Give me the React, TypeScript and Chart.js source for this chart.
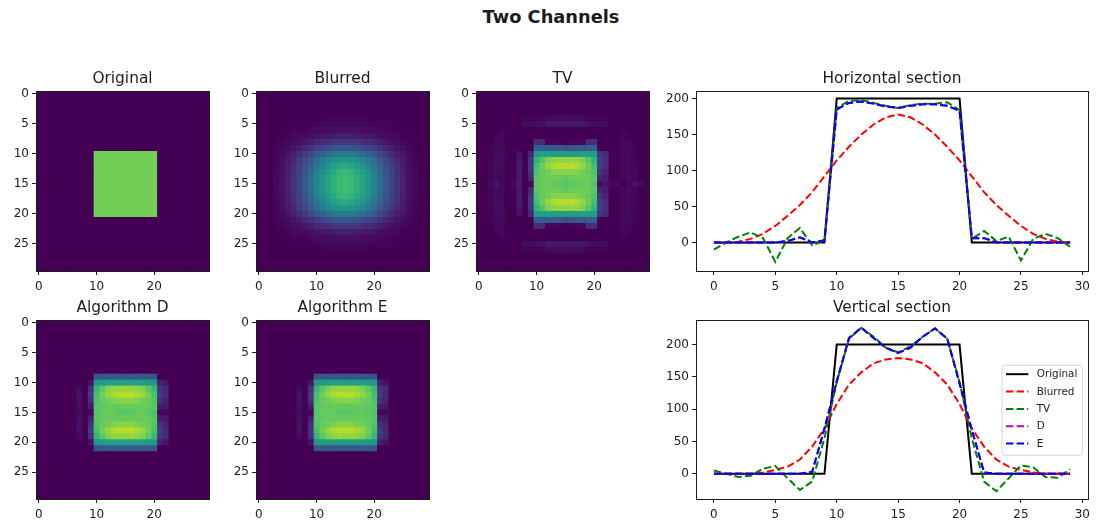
import React, { useEffect, useRef } from "react";
import { Chart, registerables } from "chart.js";

Chart.register(...registerables);

const SUPTITLE = "Two Channels";
const XS = [0,1,2,3,4,5,6,7,8,9,10,11,12,13,14,15,16,17,18,19,20,21,22,23,24,25,26,27,28,29];
const IMG_X_TICKS = [0,10,20];
const IMG_Y_TICKS = [0,5,10,15,20,25];
const SEC_X_TICKS = [0,5,10,15,20,25,30];
const SEC_Y_TICKS = [0,50,100,150,200];

// Section curves
const H_ORIGINAL = [0,0,0,0,0,0,0,0,0,0,200,200,200,200,200,200,200,200,200,200,200,0,0,0,0,0,0,0,0,0];
const H_BLURRED = [0,0,1,5,12,23,37,52,70,92,114,133,150,164,174,178,174,164,150,133,114,92,70,52,37,23,12,5,1,0];
const H_TV = [-10,0,8,14,6,-27,6,20,-4,3,187,197,198,194,190,187,191,193,193,195,184,5,16,2,8,-25,5,12,6,-6];
const H_D = [0,0,0,0,0,0,2,7,0,3,185,194,196,193,189,187,190,192,192,190,183,6,6,0,0,0,0,0,0,0];
const H_E = [0,0,0,0,0,0,2,7,0,3,185,194,196,193,189,187,190,192,192,190,183,6,6,0,0,0,0,0,0,0];
const V_ORIGINAL = [0,0,0,0,0,0,0,0,0,0,200,200,200,200,200,200,200,200,200,200,200,0,0,0,0,0,0,0,0,0];
const V_BLURRED = [0,0,0,0,2,6,11,22,42,70,108,138,157,171,177,179,177,171,157,138,108,70,42,22,11,6,2,0,0,0];
const V_TV = [5,0,-5,-3,8,12,-7,-25,-12,55,142,209,226,212,195,188,197,212,225,209,142,55,-12,-27,-7,13,10,-5,-6,7];
const V_D = [0,0,0,0,0,0,0,0,3,70,143,210,226,210,195,187,195,212,225,209,140,68,2,0,0,0,0,0,0,0];
const V_E = [0,0,0,0,0,0,0,0,3,70,143,210,226,210,195,187,195,212,225,209,140,68,2,0,0,0,0,0,0,0];
const LEGEND_LABELS = ["Original","Blurred","TV","D","E"];

// Image rows
const Z = [0,0,0,0,0,0,0,0,0,0,0,0,0,0,0,0,0,0,0,0,0,0,0,0,0,0,0,0,0,0];
const O1 = [0,0,0,0,0,0,0,0,0,0,200,200,200,200,200,200,200,200,200,200,200,0,0,0,0,0,0,0,0,0];
const IMG_ORIGINAL = [Z,Z,Z,Z,Z,Z,Z,Z,Z,Z,O1,O1,O1,O1,O1,O1,O1,O1,O1,O1,O1,Z,Z,Z,Z,Z,Z,Z,Z,Z];

const B4 = [0,0,0,0,0,0,0,0,1,1,1,1,2,2,2,2,2,2,2,1,1,1,1,0,0,0,0,0,0,0];
const B5 = [0,0,0,0,0,1,1,2,2,3,4,5,5,6,6,6,6,6,5,5,4,3,2,2,1,1,0,0,0,0];
const B6 = [0,0,0,0,1,1,2,3,4,6,7,8,9,10,11,11,11,10,9,8,7,6,4,3,2,1,1,0,0,0];
const B7 = [0,0,0,1,1,3,5,6,9,11,14,16,18,20,21,22,21,20,18,16,14,11,9,6,5,3,1,1,0,0];
const B8 = [0,0,0,1,3,5,9,12,16,22,27,31,35,39,41,42,41,39,35,31,27,22,16,12,9,5,3,1,0,0];
const B9 = [0,0,0,2,5,9,14,20,27,36,45,52,59,64,68,70,68,64,59,52,45,36,27,20,14,9,5,2,0,0];
const B10 = [0,0,1,3,7,14,22,31,42,55,69,80,90,99,105,107,105,99,90,80,69,55,42,31,22,14,7,3,1,0];
const B11 = [0,0,1,4,9,18,29,40,54,71,88,103,116,126,134,137,134,126,116,103,88,71,54,40,29,18,9,4,1,0];
const B12 = [0,0,1,4,11,20,32,46,61,81,100,117,132,144,153,156,153,144,132,117,100,81,61,46,32,20,11,4,1,0];
const B13 = [0,0,1,5,11,22,35,50,67,88,109,127,143,157,166,170,166,157,143,127,109,88,67,50,35,22,11,5,1,0];
const B14 = [0,0,1,5,12,23,37,51,69,91,113,132,148,162,172,176,172,162,148,132,113,91,69,51,37,23,12,5,1,0];
const B15 = [0,0,1,5,12,23,37,52,70,92,114,133,150,164,174,178,174,164,150,133,114,92,70,52,37,23,12,5,1,0];
const IMG_BLURRED = [Z,Z,Z,Z,B4,B5,B6,B7,B8,B9,B10,B11,B12,B13,B14,B15,B14,B13,B12,B11,B10,B9,B8,B7,B6,B5,B4,Z,Z,Z];

const T4 = [0,0,0,0,0,0,0,0,3,3,3,3,7,7,8,8,8,7,7,3,3,3,3,0,0,0,0,0,0,0];
const T5 = [0,0,0,0,0,0,0,0,8,9,9,10,15,16,16,16,16,16,15,10,9,9,8,0,0,0,0,0,0,0];
const T6 = [0,0,0,0,3,0,0,0,0,0,0,0,0,0,0,0,0,0,0,0,0,0,0,0,0,3,0,0,0,0];
const T7 = [0,0,0,3,5,0,0,0,0,0,0,0,0,0,0,0,0,0,0,0,0,0,0,0,0,5,3,0,0,0];
const T8 = [0,0,0,5,6,0,0,0,0,0,35,30,4,4,4,-12,4,4,4,30,35,0,0,0,0,6,5,0,0,0];
const T9 = [0,0,2,6,6,0,0,0,0,0,78,75,72,72,70,60,70,72,72,75,78,0,0,0,0,6,6,2,0,0];
const T10 = [0,0,3,7,6,0,0,12,0,28,138,142,143,142,142,142,142,142,143,142,138,38,30,0,0,6,7,3,0,0];
const T11 = [0,0,4,8,6,0,0,16,0,38,165,185,205,212,214,214,214,212,205,185,165,46,32,0,0,6,8,4,0,0];
const T12 = [0,0,4,8,5,0,0,18,0,40,178,198,212,222,226,226,226,222,212,198,178,45,30,0,0,5,8,4,0,0];
const T13 = [0,0,4,8,5,0,0,18,0,35,182,193,200,205,208,208,208,205,200,193,182,38,24,0,0,5,8,4,0,0];
const T14 = [0,0,4,8,5,0,0,16,0,25,188,196,198,198,197,193,197,198,198,196,188,24,20,0,0,5,8,4,0,0];
const T15 = [-10,0,8,14,6,-27,6,20,-4,3,187,197,198,194,190,187,191,193,193,195,184,5,16,2,8,-25,5,12,6,-6];
const IMG_TV = [Z,Z,Z,Z,T4,T5,T6,T7,T8,T9,T10,T11,T12,T13,T14,T15,T14,T13,T12,T11,T10,T9,T8,T7,T6,T5,T4,Z,Z,Z];

const D9 = [0,0,0,0,0,0,0,0,0,0,68,70,72,72,70,70,70,72,72,70,68,0,0,0,0,0,0,0,0,0];
const D10 = [0,0,0,0,0,0,0,0,0,15,135,140,143,143,143,143,143,143,143,140,135,22,15,0,0,0,0,0,0,0];
const D11 = [0,0,0,0,0,0,0,8,0,35,170,190,205,212,214,214,214,212,205,190,170,40,28,0,0,0,0,0,0,0];
const D12 = [0,0,0,0,0,0,0,12,0,42,180,200,215,222,226,226,226,222,215,200,180,46,30,0,0,0,0,0,0,0];
const D13 = [0,0,0,0,0,0,0,12,0,35,185,195,200,205,210,210,210,205,200,195,185,35,25,0,0,0,0,0,0,0];
const D14 = [0,0,0,0,0,0,0,10,0,20,188,192,195,195,195,195,195,195,195,192,188,20,18,0,0,0,0,0,0,0];
const D15 = [0,0,0,0,0,0,2,7,0,3,185,194,196,193,189,187,190,192,192,190,183,6,6,0,0,0,0,0,0,0];
const IMG_D = [Z,Z,Z,Z,Z,Z,Z,Z,Z,D9,D10,D11,D12,D13,D14,D15,D14,D13,D12,D11,D10,D9,Z,Z,Z,Z,Z,Z,Z,Z];

const E9 = [0,0,0,0,0,0,0,0,0,0,66,68,70,70,68,68,68,70,70,68,66,0,0,0,0,0,0,0,0,0];
const E10 = [0,0,0,0,0,0,0,0,0,14,134,139,142,142,142,142,142,142,142,139,134,21,14,0,0,0,0,0,0,0];
const E11 = [0,0,0,0,0,0,0,8,0,34,169,189,204,211,213,213,213,211,204,189,169,39,27,0,0,0,0,0,0,0];
const E12 = [0,0,0,0,0,0,0,12,0,41,179,199,214,221,226,226,226,221,214,199,179,45,29,0,0,0,0,0,0,0];
const E13 = [0,0,0,0,0,0,0,12,0,34,184,194,199,204,209,209,209,204,199,194,184,34,24,0,0,0,0,0,0,0];
const E14 = [0,0,0,0,0,0,0,9,0,19,187,191,194,194,194,194,194,194,194,191,187,19,17,0,0,0,0,0,0,0];
const E15 = [0,0,0,0,0,0,2,7,0,3,185,194,196,193,189,187,190,192,192,190,183,6,6,0,0,0,0,0,0,0];
const IMG_E = [Z,Z,Z,Z,Z,Z,Z,Z,Z,E9,E10,E11,E12,E13,E14,E15,E14,E13,E12,E11,E10,E9,Z,Z,Z,Z,Z,Z,Z,Z];

const VIRIDIS = [[68,1,84],[72,36,117],[65,68,135],[53,95,141],[42,120,142],[33,145,140],[34,168,132],[68,191,112],[122,209,81],[189,223,38],[253,231,37]];
const VMAX = 255;

const FONT = "'DejaVu Sans', sans-serif";
const INK = "#1c1c1c";
const ML = 36, MR = 9, MT = 28, MB = 28;

function viridis(v: number) {
  const t = Math.max(0, Math.min(1, v / VMAX)) * (VIRIDIS.length - 1);
  const i = Math.min(Math.floor(t), VIRIDIS.length - 2);
  const f = t - i;
  const c = VIRIDIS[i].map((a, k) => Math.round(a + (VIRIDIS[i + 1][k] - a) * f));
  return `rgb(${c[0]},${c[1]},${c[2]})`;
}

const titleCenterPlugin = {
  id: "titleOverPlot",
  afterLayout(chart: any) {
    const t = chart.titleBlock;
    if (t) {
      t.left = chart.chartArea.left - 60;
      t.right = chart.chartArea.right + 60;
    }
  },
};

const heatPlugin = {
  id: "heatCells",
  beforeDatasetsDraw(chart: any) {
    const ds = chart.data.datasets[0];
    if (!ds || !ds.isHeat) return;
    const { ctx, chartArea: a, scales } = chart;
    ctx.save();
    ctx.beginPath();
    ctx.rect(a.left, a.top, a.right - a.left, a.bottom - a.top);
    ctx.clip();
    for (const p of ds.data) {
      const x0 = scales.x.getPixelForValue(p.x - 0.5);
      const x1 = scales.x.getPixelForValue(p.x + 0.5);
      const y0 = scales.y.getPixelForValue(p.y - 0.5);
      const y1 = scales.y.getPixelForValue(p.y + 0.5);
      ctx.fillStyle = viridis(p.v);
      ctx.fillRect(x0, y0, x1 - x0 + 1, y1 - y0 + 1);
    }
    ctx.restore();
  },
};

const framePlugin = {
  id: "frameBox",
  afterDraw(chart: any) {
    const { ctx, chartArea: a } = chart;
    ctx.save();
    ctx.strokeStyle = INK;
    ctx.lineWidth = 1;
    ctx.strokeRect(Math.round(a.left) + 0.5, Math.round(a.top) + 0.5, Math.round(a.right - a.left), Math.round(a.bottom - a.top));
    ctx.restore();
  },
};

const legendPlugin = {
  id: "sectionLegend",
  afterDraw(chart: any) {
    if (!chart.options.plugins.sectionLegend?.show) return;
    const { ctx, chartArea: a } = chart;
    const right = a.right - 5.7, w = 80.3, top = a.top + 45.3, h = 90;
    const left = right - w;
    ctx.save();
    ctx.beginPath();
    ctx.roundRect(left, top, w, h, 3);
    ctx.fillStyle = "rgba(255,255,255,0.8)";
    ctx.fill();
    ctx.strokeStyle = "#d4d4d4";
    ctx.lineWidth = 1;
    ctx.stroke();
    ctx.font = `10.4px ${FONT}`;
    ctx.textBaseline = "middle";
    chart.data.datasets.forEach((d: any, i: number) => {
      const y = top + 8.9 + i * 17.35;
      ctx.beginPath();
      ctx.setLineDash(d.borderDash || []);
      ctx.strokeStyle = d.borderColor;
      ctx.lineWidth = 2;
      ctx.moveTo(left + 4, y);
      ctx.lineTo(left + 26.3, y);
      ctx.stroke();
      ctx.setLineDash([]);
      ctx.fillStyle = INK;
      ctx.fillText(d.label, left + 34.7, y + 0.5);
    });
    ctx.restore();
  },
};

function axis(ticks: number[], extra: any, isX: boolean) {
  return {
    type: "linear",
    ...extra,
    afterBuildTicks(s: any) { s.ticks = ticks.map((value) => ({ value })); },
    afterFit(s: any) {
      if (isX) s.height = MB; else s.width = ML;
      s.paddingLeft = s.paddingRight = s.paddingTop = s.paddingBottom = 0;
    },
    border: { display: false },
    grid: { display: true, drawOnChartArea: false, drawTicks: true, tickLength: 4, tickColor: INK, tickWidth: 1 },
    ticks: {
      autoSkip: false, maxRotation: 0, minRotation: 0, padding: isX ? 5 : 3,
      color: INK, font: { family: FONT, size: 12 },
      callback: (v: any) => String(v),
    },
  };
}

function baseOptions(title: string, x: any, y: any, legend = false) {
  return {
    responsive: false,
    animation: false,
    maintainAspectRatio: false,
    layout: { padding: { left: 0, right: MR, top: 0, bottom: 0 } },
    scales: { x, y },
    plugins: {
      legend: { display: false },
      tooltip: { enabled: false },
      title: {
        display: true, text: title, color: INK,
        font: { family: FONT, size: 15.4, weight: "normal", lineHeight: 1.2 },
        padding: { top: 7, bottom: 2.5 },
      },
      sectionLegend: { show: legend },
    },
  };
}

function imageConfig(title: string, matrix: number[][]) {
  const data: any[] = [];
  matrix.forEach((row, r) => row.forEach((v, c) => data.push({ x: XS[c], y: XS[r], v })));
  return {
    type: "scatter",
    data: { datasets: [{ label: title, isHeat: true, data, pointRadius: 0, showLine: false }] },
    options: baseOptions(title,
      axis(IMG_X_TICKS, { min: -0.5, max: 29.5 }, true),
      axis(IMG_Y_TICKS, { min: -0.5, max: 29.5, reverse: true }, false)),
  };
}

function sectionConfig(title: string, series: number[][], yMin: number, yMax: number, legend: boolean) {
  const colors = ["#000000", "#ff0000", "#008000", "#bf00bf", "#0000ff"];
  const datasets = series.map((vals, i) => ({
    label: LEGEND_LABELS[i],
    data: vals.map((y, k) => ({ x: XS[k], y })),
    borderColor: colors[i],
    borderWidth: 2,
    borderDash: i === 0 ? [] : [7.4, 3.2],
    pointRadius: 0,
    tension: 0,
    fill: false,
    order: series.length - i,
    borderCapStyle: "butt",
  }));
  return {
    type: "line",
    data: { datasets },
    options: baseOptions(title,
      axis(SEC_X_TICKS, { min: -1.46, max: 30.46 }, true),
      axis(SEC_Y_TICKS, { min: yMin, max: yMax }, false), legend),
  };
}

function Panel({ box, config }: { box: number[]; config: any }) {
  const ref = useRef<HTMLCanvasElement | null>(null);
  const [l, t, r, b] = box;
  const width = r - l + ML + MR;
  const height = b - t + MT + MB;
  useEffect(() => {
    const chart = new Chart(ref.current as any, { ...config, plugins: [titleCenterPlugin, heatPlugin, framePlugin, legendPlugin] });
    return () => chart.destroy();
  }, []);
  return (
    <canvas ref={ref} width={width} height={height}
      style={{ position: "absolute", left: l - ML, top: t - MT, width, height, display: "block" }} />
  );
}

export default function App() {
  return (
    <div style={{ position: "fixed", left: 0, top: 0, width: 1097, height: 524, background: "#fff", overflow: "hidden" }}>
      <div style={{ position: "absolute", left: 0, width: 1102, top: 6, textAlign: "center", font: `bold 17.8px ${FONT}`, lineHeight: "21px", color: INK }}>
        {SUPTITLE}
      </div>
      <Panel box={[36, 91, 209, 271]} config={imageConfig("Original", IMG_ORIGINAL)} />
      <Panel box={[256, 91, 429, 271]} config={imageConfig("Blurred", IMG_BLURRED)} />
      <Panel box={[476, 91, 649, 271]} config={imageConfig("TV", IMG_TV)} />
      <Panel box={[36, 320, 209, 499]} config={imageConfig("Algorithm D", IMG_D)} />
      <Panel box={[256, 320, 429, 499]} config={imageConfig("Algorithm E", IMG_E)} />
      <Panel box={[696, 91, 1088, 271]} config={sectionConfig("Horizontal section", [H_ORIGINAL, H_BLURRED, H_TV, H_D, H_E], -39.7, 210.6, false)} />
      <Panel box={[696, 320, 1088, 499]} config={sectionConfig("Vertical section", [V_ORIGINAL, V_BLURRED, V_TV, V_D, V_E], -39, 238, true)} />
    </div>
  );
}
